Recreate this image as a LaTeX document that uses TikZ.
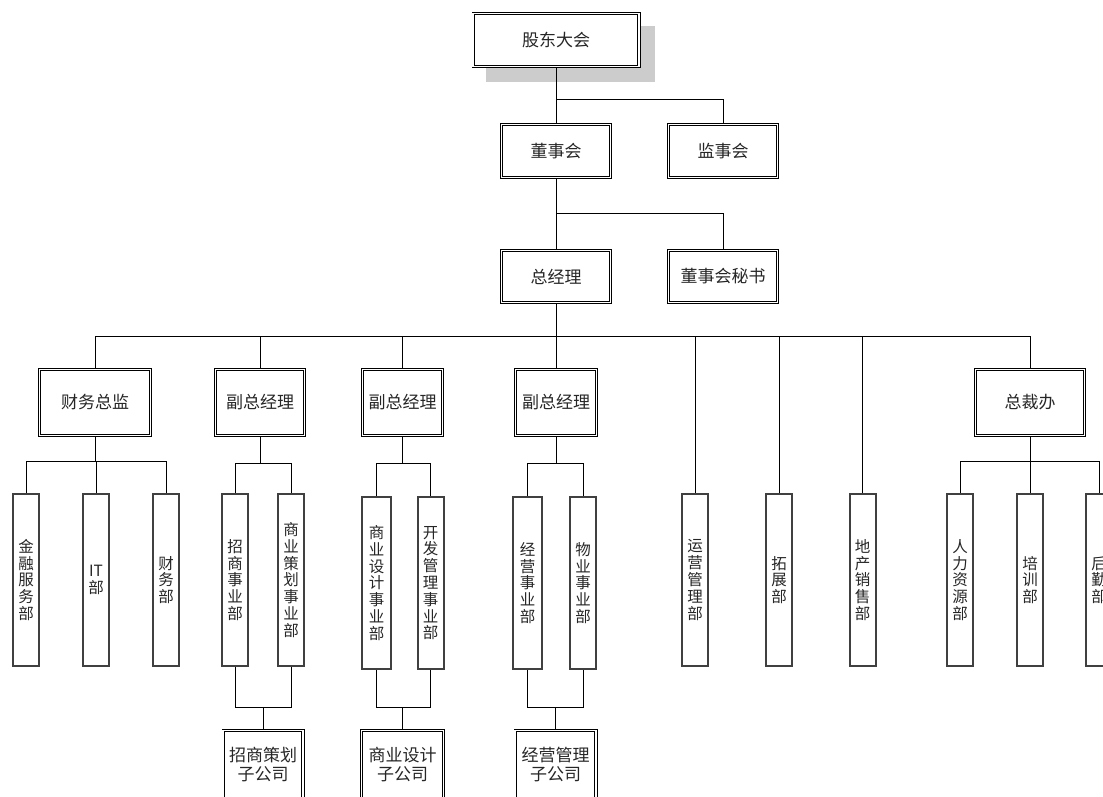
\documentclass[tikz,border=0pt]{standalone}
\usepackage{fontspec}
\setmainfont{Noto Sans CJK SC}
\usetikzlibrary{backgrounds}
\begin{document}
\begin{tikzpicture}[x=1pt,y=-1pt,
  dbox/.style={draw=black, double=white, line width=0.8pt, double distance=1.6pt, fill=white,
    inner sep=0pt, outer sep=0pt, font=\fontsize{17}{19}\selectfont, align=center, text=black!85},
  vbox/.style={draw=black!75, line width=2pt, fill=white, inner sep=0pt, outer sep=0pt,
    font=\fontsize{15.5}{16.8}\selectfont, align=center, minimum height=172pt, text=black!85},
  conn/.style={draw=black, line width=0.9pt}]
\useasboundingbox (0,0) rectangle (1103,796);
\clip (0,0) rectangle (1103,796);

% level coordinates
\coordinate (t1) at (0,99.5);
\coordinate (t2) at (0,213.5);
\coordinate (b)  at (0,336);
\coordinate (g1) at (0,461);
\coordinate (g2) at (0,463);
\coordinate (g3) at (0,707);

% top
\node[dbox, minimum width=165.8pt, minimum height=52.8pt] (gd) at (556,40) {股东大会};
\node[dbox, minimum width=108.8pt, minimum height=52.8pt] (dsh) at (556,151) {董事会};
\node[dbox, minimum width=108.8pt, minimum height=52.8pt] (jsh) at (723,151) {监事会};
\node[dbox, minimum width=108.8pt, minimum height=51.8pt] (zjl) at (556,276.5) {总经理};
\node[dbox, minimum width=108.8pt, minimum height=51.8pt] (ms) at (723,276.5) {董事会秘书};

% level 3
\node[dbox, minimum width=110.8pt, minimum height=65.8pt] (cw) at (95,402.5) {财务总监};
\node[dbox, minimum width=88.8pt, minimum height=65.8pt] (f1) at (260,402.5) {副总经理};
\node[dbox, minimum width=79.8pt, minimum height=65.8pt] (f2) at (402.5,402.5) {副总经理};
\node[dbox, minimum width=80.8pt, minimum height=65.8pt] (f3) at (556,402.5) {副总经理};
\node[dbox, minimum width=108.8pt, minimum height=65.8pt] (zc) at (1030,402.5) {总裁办};

% vertical boxes
\node[vbox, minimum width=26pt] (jr)  at (26,580) {金\\融\\服\\务\\部};
\node[vbox, minimum width=26pt] (it)  at (96,580) {IT\\部};
\node[vbox, minimum width=26pt] (cwb) at (166,580) {财\\务\\部};
\node[vbox, minimum width=26pt] (zs)  at (235,580) {招\\商\\事\\业\\部};
\node[vbox, minimum width=26pt] (sc)  at (291,580) {商\\业\\策\\划\\事\\业\\部};
\node[vbox, minimum width=29pt] (sj)  at (376.5,583) {商\\业\\设\\计\\事\\业\\部};
\node[vbox, minimum width=26pt] (kf)  at (430.5,583) {开\\发\\管\\理\\事\\业\\部};
\node[vbox, minimum width=29pt] (jy)  at (527.5,583) {经\\营\\事\\业\\部};
\node[vbox, minimum width=26pt] (wy)  at (583,583) {物\\业\\事\\业\\部};
\node[vbox, minimum width=26pt] (yy)  at (695,580) {运\\营\\管\\理\\部};
\node[vbox, minimum width=26pt] (tz)  at (779,580) {拓\\展\\部};
\node[vbox, minimum width=26pt] (dc)  at (862.5,580) {地\\产\\销\\售\\部};
\node[vbox, minimum width=26pt] (rl)  at (960,580) {人\\力\\资\\源\\部};
\node[vbox, minimum width=26pt] (px)  at (1030,580) {培\\训\\部};
\node[vbox, minimum width=26pt] (hq)  at (1099,580) {后\\勤\\部};

% subsidiaries
\node[dbox, minimum width=79.8pt, minimum height=67.8pt] (zsg) at (263,764.5) {招商策划\\子公司};
\node[dbox, minimum width=81.8pt, minimum height=67.8pt] (sjg) at (402.5,764.5) {商业设计\\子公司};
\node[dbox, minimum width=80.8pt, minimum height=67.8pt] (jyg) at (555.5,764.5) {经营管理\\子公司};

\begin{pgfonlayer}{background}
  \fill[black!20] ([shift={(12.4,12.4)}]gd.north west) rectangle ([shift={(15.6,15.6)}]gd.south east);
  % top connectors
  \draw[conn] (gd.south) -- (dsh.north);
  \draw[conn] (gd.south |- t1) -| (jsh.north);
  \draw[conn] (dsh.south) -- (zjl.north);
  \draw[conn] (dsh.south |- t2) -| (ms.north);
  \draw[conn] (zjl.south) -- (f3.north);
  % main bus
  \draw[conn] (cw.north) |- (zc.north |- b) -- (zc.north);
  \foreach \n in {f1,f2,yy,tz,dc} \draw[conn] (\n.north) -- (\n.north |- b);
  % finance group
  \draw[conn] (cw.south) -- (cw.south |- g1);
  \draw[conn] (jr.north) |- (cwb.north |- g1) -- (cwb.north);
  \draw[conn] (it.north) -- (it.north |- g1);
  % office group
  \draw[conn] (zc.south) -- (zc.south |- g1);
  \draw[conn] (rl.north) |- (hq.north |- g1) -- (hq.north);
  \draw[conn] (px.north) -- (px.north |- g1);
  % deputy groups
  \draw[conn] (f1.south) -- (f1.south |- g2);
  \draw[conn] (zs.north) |- (sc.north |- g2) -- (sc.north);
  \draw[conn] (f2.south) -- (f2.south |- g2);
  \draw[conn] (sj.north) |- (kf.north |- g2) -- (kf.north);
  \draw[conn] (f3.south) -- (f3.south |- g2);
  \draw[conn] (jy.north) |- (wy.north |- g2) -- (wy.north);
  % subsidiaries
  \draw[conn] (zs.south) |- (sc.south |- g3) -- (sc.south);
  \draw[conn] (zsg.north) -- (zsg.north |- g3);
  \draw[conn] (sj.south) |- (kf.south |- g3) -- (kf.south);
  \draw[conn] (sjg.north) -- (sjg.north |- g3);
  \draw[conn] (jy.south) |- (wy.south |- g3) -- (wy.south);
  \draw[conn] (jyg.north) -- (jyg.north |- g3);
\end{pgfonlayer}
\end{tikzpicture}
\end{document}
